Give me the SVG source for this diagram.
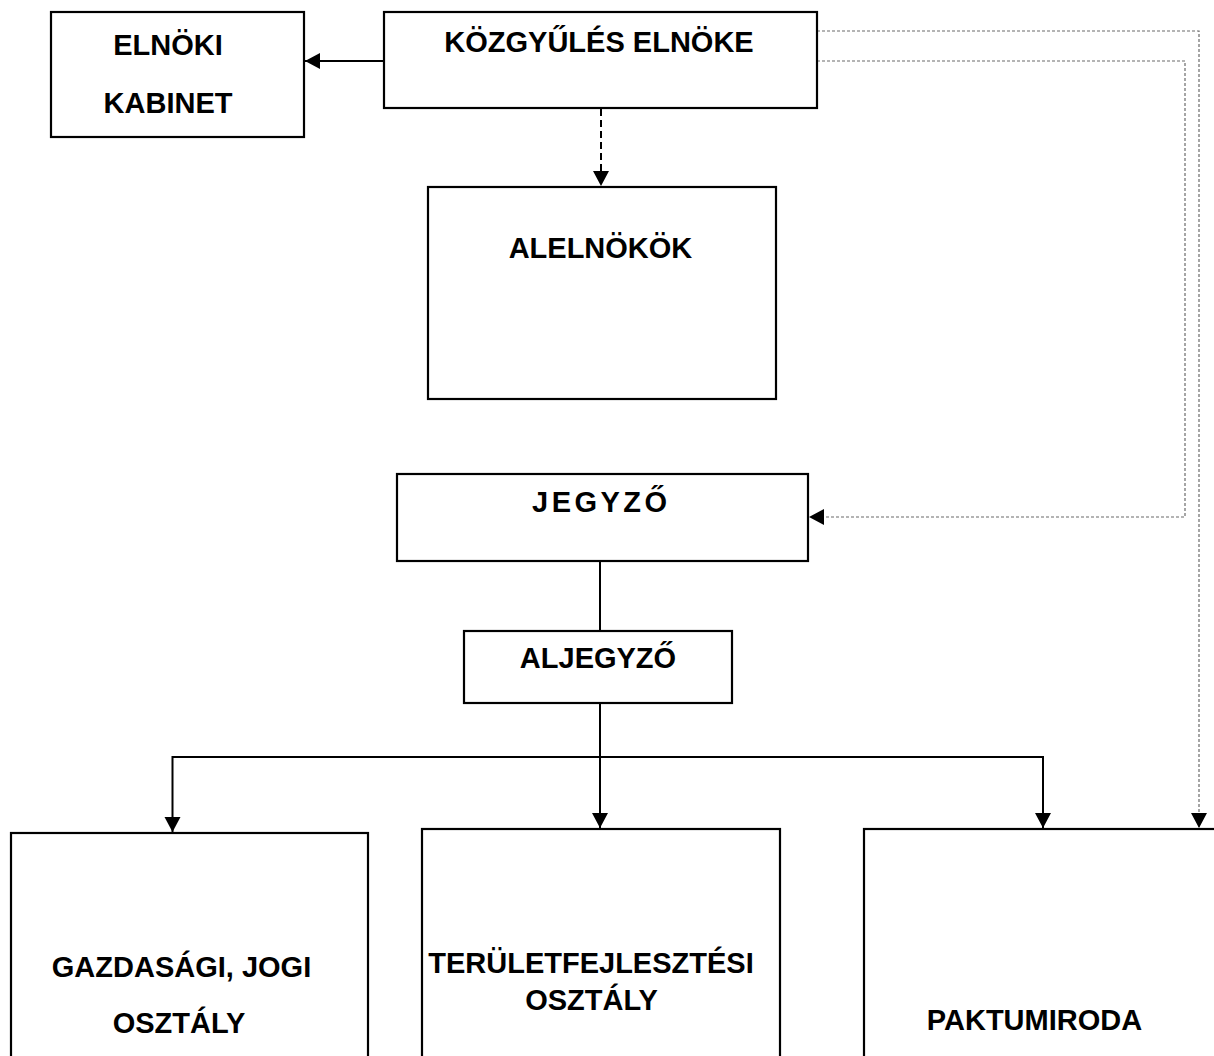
<svg xmlns="http://www.w3.org/2000/svg" width="1214" height="1056" viewBox="0 0 1214 1056">
<style>
.box{fill:#fff;stroke:#000;stroke-width:2.2}
.t{font-family:"Liberation Sans",Arial,sans-serif;font-weight:bold;font-size:29px;fill:#000;text-anchor:middle}
.c{fill:none;stroke:#000;stroke-width:2}
.dash{fill:none;stroke:#000;stroke-width:2;stroke-dasharray:7,4}
.dot{fill:none;stroke:#6a6a6a;stroke-width:1.2;stroke-dasharray:3,2}
</style>
<defs>
<marker id="ah" markerUnits="userSpaceOnUse" markerWidth="18" markerHeight="18" viewBox="0 0 18 18" refX="16" refY="9" orient="auto">
<path d="M1,1 L16,9 L1,17 Z" fill="#000"/>
</marker>
</defs>
<rect width="1214" height="1056" fill="#fff"/>
<g id="connectors">
<line class="c" x1="384" y1="61" x2="305" y2="61" marker-end="url(#ah)"/>
<line class="dash" x1="601" y1="109" x2="601" y2="186" marker-end="url(#ah)"/>
<line class="c" x1="600" y1="561" x2="600" y2="631"/>
<line class="c" x1="600" y1="703" x2="600" y2="828" marker-end="url(#ah)"/>
<polyline class="c" points="600,757 172.5,757 172.5,832" marker-end="url(#ah)"/>
<polyline class="c" points="600,757 1043,757 1043,828" marker-end="url(#ah)"/>
<polyline class="dot" points="817,31 1199,31 1199,828" marker-end="url(#ah)"/>
<polyline class="dot" points="817,61 1185,61 1185,517 809,517" marker-end="url(#ah)"/>
</g>
<g id="node-elnoki-kabinet">
<rect class="box" x="51" y="12" width="253" height="125"/>
<text class="t" x="168" y="55">ELNÖKI</text>
<text class="t" x="168" y="113">KABINET</text>
</g>
<g id="node-kozgyules-elnoke">
<rect class="box" x="384" y="12" width="433" height="96"/>
<text class="t" x="599" y="52">KÖZGYŰLÉS ELNÖKE</text>
</g>
<g id="node-alelnokok">
<rect class="box" x="428" y="187" width="348" height="212"/>
<text class="t" x="600.5" y="258">ALELNÖKÖK</text>
</g>
<g id="node-jegyzo">
<rect class="box" x="397" y="474" width="411" height="87"/>
<text class="t" x="532" y="512" style="text-anchor:start;letter-spacing:3.5px">JEGYZŐ</text>
</g>
<g id="node-aljegyzo">
<rect class="box" x="464" y="631" width="268" height="72"/>
<text class="t" x="598" y="668">ALJEGYZŐ</text>
</g>
<g id="node-gazdasagi">
<rect class="box" x="11" y="833" width="357" height="240"/>
<text class="t" x="181.5" y="977">GAZDASÁGI, JOGI</text>
<text class="t" x="179" y="1033">OSZTÁLY</text>
</g>
<g id="node-teruletfejlesztesi">
<rect class="box" x="422" y="829" width="358" height="240"/>
<text class="t" x="591" y="973">TERÜLETFEJLESZTÉSI</text>
<text class="t" x="591.5" y="1010">OSZTÁLY</text>
</g>
<g id="node-paktumiroda">
<rect class="box" x="864" y="829" width="400" height="240"/>
<text class="t" x="1034.5" y="1030">PAKTUMIRODA</text>
</g>
</svg>
